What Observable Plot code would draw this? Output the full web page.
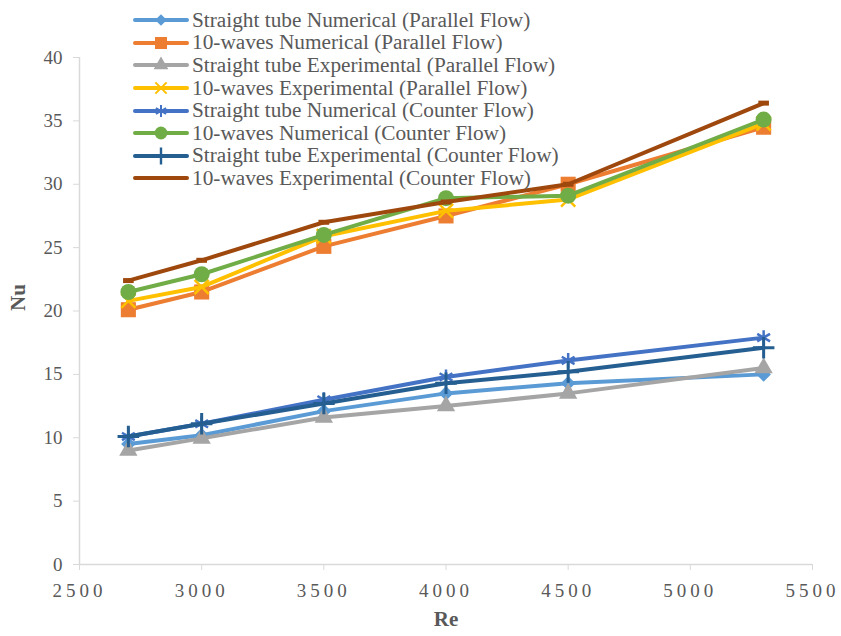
<!DOCTYPE html>
<html>
<head>
<meta charset="utf-8">
<script src="https://cdn.jsdelivr.net/npm/d3@7"></script>
<script src="https://cdn.jsdelivr.net/npm/@observablehq/plot@0.6"></script>
<style>
  html, body { margin: 0; padding: 0; background: #fff; }
  #wrap { position: relative; width: 841px; height: 636px; }
  #legend { position: absolute; left: 133px; top: 9px; font-family: "Liberation Serif", serif; font-size: 21.3px; color: #595959; }
  .row { display: flex; align-items: center; height: 22.6px; white-space: nowrap; }
  .row svg { margin-right: 3px; overflow: visible; flex: none; }
</style>
</head>
<body>
<div id="wrap"><div id="legend"></div></div>
<script>
// ---- data ----
const reynolds = [2700, 3000, 3500, 4000, 4500, 5300];
const straightNumParallel = [9.5, 10.2, 12.1, 13.5, 14.3, 15.0];
const wavesNumParallel = [20.1, 21.5, 25.1, 27.5, 30.0, 34.5];
const straightExpParallel = [9.0, 9.95, 11.6, 12.5, 13.5, 15.5];
const wavesExpParallel = [20.8, 21.9, 25.9, 27.9, 28.8, 34.8];
const straightNumCounter = [10.1, 11.1, 13.0, 14.8, 16.1, 17.9];
const wavesNumCounter = [21.5, 22.9, 26.0, 28.9, 29.1, 35.1];
const straightExpCounter = [10.1, 11.1, 12.7, 14.3, 15.2, 17.1];
const wavesExpCounter = [22.4, 24.0, 27.0, 28.6, 30.0, 36.4];
const seriesNames = [
  "Straight tube Numerical (Parallel Flow)",
  "10-waves Numerical (Parallel Flow)",
  "Straight tube Experimental (Parallel Flow)",
  "10-waves Experimental (Parallel Flow)",
  "Straight tube Numerical (Counter Flow)",
  "10-waves Numerical (Counter Flow)",
  "Straight tube Experimental (Counter Flow)",
  "10-waves Experimental (Counter Flow)"
];
const xTicks = [2500, 3000, 3500, 4000, 4500, 5000, 5500];
const yTicks = [0, 5, 10, 15, 20, 25, 30, 35, 40];

// ---- symbols ----
const diamondSym = {draw(ctx, size) { const r = Math.sqrt(size / 2); ctx.moveTo(0, -r); ctx.lineTo(r, 0); ctx.lineTo(0, r); ctx.lineTo(-r, 0); ctx.closePath(); }};
const dashSym = {draw(ctx, size) { const r = Math.sqrt(size) * 0.5; ctx.moveTo(-r, 0); ctx.lineTo(r, 0); }};

const styles = [
  {color: "#5B9BD5", sym: diamondSym, r: 5.8, filled: true},
  {color: "#ED7D31", sym: d3.symbolSquare, r: 8.5, filled: true},
  {color: "#A5A5A5", sym: d3.symbolTriangle, r: 6.8, filled: true},
  {color: "#FFC000", sym: d3.symbolTimes, r: 6.5, filled: false, sw: 2.5},
  {color: "#4472C4", sym: d3.symbolAsterisk, r: 7, filled: false, sw: 2.5},
  {color: "#70AD47", sym: d3.symbolCircle, r: 8, filled: true},
  {color: "#255E91", sym: d3.symbolPlus, r: 7, filled: false, sw: 3},
  {color: "#9E480E", sym: dashSym, r: 6, filled: false, sw: 5}
];

const valueArrays = [straightNumParallel, wavesNumParallel, straightExpParallel, wavesExpParallel,
  straightNumCounter, wavesNumCounter, straightExpCounter, wavesExpCounter];

const marks = [];
valueArrays.forEach((vals, i) => {
  const data = reynolds.map((re, j) => ({re, nu: vals[j], series: seriesNames[i]}));
  const s = styles[i];
  marks.push(Plot.line(data, {x: "re", y: "nu", stroke: s.color, strokeWidth: 4, strokeLinejoin: "round"}));
  marks.push(Plot.dot(data, {
    x: "re", y: "nu", symbol: () => s.sym, r: s.r,
    fill: s.filled ? s.color : "none",
    stroke: s.filled ? "none" : s.color,
    strokeWidth: s.filled ? 0 : s.sw
  }));
});

const chart = Plot.plot({
  width: 841,
  height: 636,
  marginLeft: 79,
  marginRight: 29,
  marginTop: 57,
  marginBottom: 72,
  style: {fontFamily: "'Liberation Serif', serif", background: "#fff", overflow: "visible"},
  symbol: {type: "identity"},
  x: {domain: [2500, 5500]},
  y: {domain: [0, 40]},
  marks: [
    Plot.ruleY([0], {stroke: "#d9d9d9", strokeWidth: 1.5}),
    Plot.ruleX([2500], {stroke: "#d9d9d9", strokeWidth: 1.5}),
    Plot.axisX({ticks: xTicks, tickFormat: d3.format("d"), tickSize: 6, tickPadding: 13, stroke: "#d9d9d9", fill: "#595959", fontSize: 19, label: null}),
    Plot.axisY({ticks: yTicks, tickSize: 6, tickPadding: 11, stroke: "#d9d9d9", fill: "#595959", fontSize: 19, label: null}),
    Plot.text(["Nu"], {frameAnchor: "left", dx: -61, rotate: -90, fontSize: 21, fontWeight: "bold", fill: "#595959"}),
    Plot.text(["Re"], {frameAnchor: "bottom", dy: 61, fontSize: 21, fontWeight: "bold", fill: "#595959"}),
    ...marks
  ]
});
document.getElementById("wrap").insertBefore(chart, document.getElementById("legend"));
const xl = chart.querySelector('[aria-label="x-axis tick label"]');
if (xl) { xl.style.letterSpacing = "4px"; }

// ---- legend ----
const legend = d3.select("#legend");
seriesNames.forEach((name, i) => {
  const s = styles[i];
  const row = legend.append("div").attr("class", "row");
  const sv = row.append("svg").attr("width", 56).attr("height", 20);
  sv.append("line").attr("x1", 2).attr("x2", 54).attr("y1", 10).attr("y2", 10)
    .attr("stroke", s.color).attr("stroke-width", 4).attr("stroke-linecap", "round");
  const rr = s.r * 0.8;
  sv.append("path").attr("transform", "translate(28,10)")
    .attr("d", d3.symbol(s.sym, Math.PI * rr * rr)())
    .attr("fill", s.filled ? s.color : "none")
    .attr("stroke", s.filled ? "none" : s.color)
    .attr("stroke-width", s.filled ? 0 : s.sw * 0.8);
  row.append("span").text(name);
});
</script>
</body>
</html>
